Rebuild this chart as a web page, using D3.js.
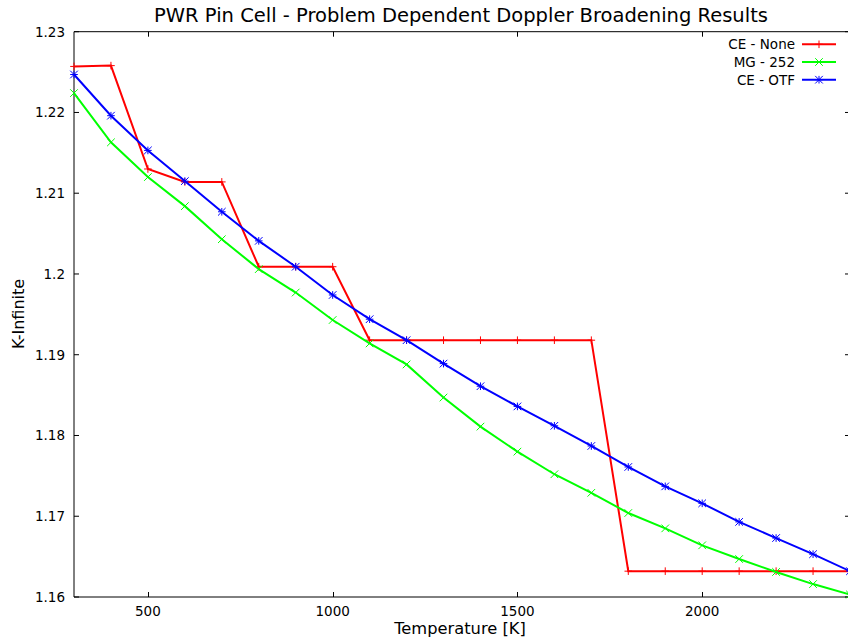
<!DOCTYPE html>
<html>
<head>
<meta charset="utf-8">
<script src="https://cdn.jsdelivr.net/npm/d3@7"></script>
<style>
  body { margin: 0; background: #fff; }
  text { font-family: "DejaVu Sans", sans-serif; fill: #000; }
</style>
</head>
<body>
<svg id="chart" width="848" height="638"></svg>
<script>
// temperatures [K]
const temperatures = [300, 400, 500, 600, 700, 800, 900, 1000, 1100, 1200, 1300, 1400,
  1500, 1600, 1700, 1800, 1900, 2000, 2100, 2200, 2300, 2400]

const ceNone = [1.2257, 1.2258, 1.2130, 1.2114, 1.2114, 1.2009, 1.2009, 1.2009, 1.1918, 1.1918, 1.1918, 1.1918,
  1.1918, 1.1918, 1.1918, 1.1632, 1.1632, 1.1632, 1.1632, 1.1632, 1.1632, 1.1632]
const mg252 = [1.2224, 1.2163, 1.2120, 1.2084, 1.2043, 1.2006, 1.1977, 1.1943, 1.1914, 1.1888, 1.1847, 1.1811,
  1.1780, 1.1752, 1.1729, 1.1704, 1.1685, 1.1664, 1.1647, 1.1631, 1.1616, 1.1603]
const ceOtf = [1.2247, 1.2196, 1.2153, 1.2115, 1.2077, 1.2041, 1.2009, 1.1974, 1.1944, 1.1918, 1.1889, 1.1861,
  1.1836, 1.1812, 1.1787, 1.1761, 1.1737, 1.1716, 1.1693, 1.1673, 1.1653, 1.1632]

const xTicks = [500, 1000, 1500, 2000]
const yTicks = [1.16, 1.17, 1.18, 1.19, 1.20, 1.21, 1.22, 1.23]
const yTickLabels = ['1.16', '1.17', '1.18', '1.19', '1.2', '1.21', '1.22', '1.23']

const series = [
  { name: 'CE - None', values: ceNone, color: '#ff0000', mark: 'plus' },
  { name: 'MG - 252', values: mg252, color: '#00ff00', mark: 'cross' },
  { name: 'CE - OTF', values: ceOtf, color: '#0000ff', mark: 'star' }
]

const svg = d3.select('#chart')
const plotLeft = 74
const plotRight = 850
const plotTop = 31.7
const plotBottom = 597

const x = d3.scaleLinear().domain([300, 2400]).range([plotLeft, plotRight])
const y = d3.scaleLinear().domain([1.16, 1.23]).range([plotBottom, plotTop])

// gnuplot-like point symbols, s is half size
function drawMark (g, kind, cx, cy, color) {
  const s = 3.8
  let d = ''
  if (kind === 'plus' || kind === 'star') {
    d += `M${cx - s},${cy}H${cx + s}M${cx},${cy - s}V${cy + s}`
  }
  if (kind === 'cross' || kind === 'star') {
    d += `M${cx - s},${cy - s}L${cx + s},${cy + s}M${cx - s},${cy + s}L${cx + s},${cy - s}`
  }
  g.append('path')
    .attr('d', d)
    .attr('stroke', color)
    .attr('stroke-width', 1)
    .attr('fill', 'none')
}

// border: left, bottom, top (right one sits off the canvas)
svg.append('path')
  .attr('d', `M${plotRight},${plotTop}H${plotLeft}V${plotBottom}H${plotRight}`)
  .attr('fill', 'none')
  .attr('stroke', '#000')
  .attr('stroke-width', 1)

// ticks (inward, mirrored)
const tickG = svg.append('g').attr('stroke', '#000').attr('stroke-width', 1)
xTicks.forEach(t => {
  const px = Math.round(x(t)) + 0.5
  tickG.append('line').attr('x1', px).attr('x2', px).attr('y1', plotBottom).attr('y2', plotBottom - 5)
  tickG.append('line').attr('x1', px).attr('x2', px).attr('y1', plotTop).attr('y2', plotTop + 5)
})
yTicks.forEach(t => {
  const py = y(t)
  tickG.append('line').attr('x1', plotLeft).attr('x2', plotLeft + 5).attr('y1', py).attr('y2', py)
  tickG.append('line').attr('x1', plotRight).attr('x2', plotRight - 5).attr('y1', py).attr('y2', py)
})

svg.append('g').selectAll('text')
  .data(xTicks)
  .join('text')
  .attr('x', d => x(d))
  .attr('y', plotBottom + 19)
  .attr('text-anchor', 'middle')
  .style('font-size', '13.5px')
  .text(d => d)

svg.append('g').selectAll('text')
  .data(yTicks)
  .join('text')
  .attr('x', plotLeft - 9)
  .attr('y', d => y(d) + 5)
  .attr('text-anchor', 'end')
  .style('font-size', '13.5px')
  .text((d, i) => yTickLabels[i])

// titles
svg.append('text')
  .attr('x', 461)
  .attr('y', 22)
  .attr('text-anchor', 'middle')
  .style('font-size', '19.5px')
  .text('PWR Pin Cell - Problem Dependent Doppler Broadening Results')

svg.append('text')
  .attr('x', 460)
  .attr('y', 634)
  .attr('text-anchor', 'middle')
  .style('font-size', '16.3px')
  .text('Temperature [K]')

svg.append('text')
  .attr('transform', 'translate(24,314) rotate(-90)')
  .attr('text-anchor', 'middle')
  .style('font-size', '16px')
  .text('K-Infinite')

// series
const plot = svg.append('g')
const line = d3.line()
  .x((d, i) => x(temperatures[i]))
  .y(d => y(d))

series.forEach(s => {
  plot.append('path')
    .datum(s.values)
    .attr('d', line)
    .attr('fill', 'none')
    .attr('stroke', s.color)
    .attr('stroke-width', 2)
  s.values.forEach((v, i) => drawMark(plot, s.mark, x(temperatures[i]), y(v), s.color))
})

// legend
const legend = svg.append('g')
series.forEach((s, i) => {
  const ly = 44.3 + i * 17.7
  legend.append('text')
    .attr('x', 795)
    .attr('y', ly + 5)
    .attr('text-anchor', 'end')
    .style('font-size', '13.5px')
    .text(s.name)
  legend.append('line')
    .attr('x1', 802)
    .attr('x2', 836)
    .attr('y1', ly)
    .attr('y2', ly)
    .attr('stroke', s.color)
    .attr('stroke-width', 2)
  drawMark(legend, s.mark, 819, ly, s.color)
})
</script>
</body>
</html>
